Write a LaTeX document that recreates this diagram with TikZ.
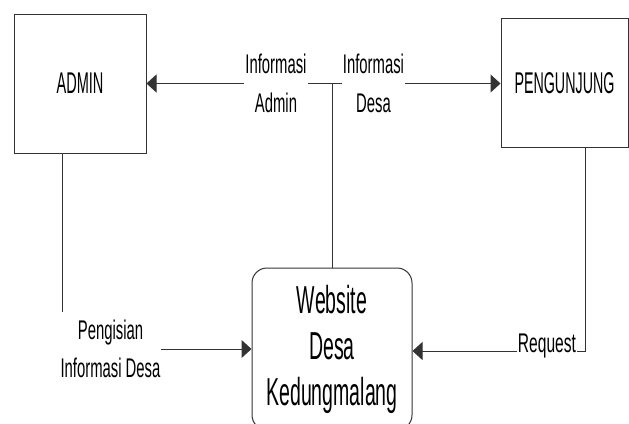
\documentclass[tikz,border=0pt]{standalone}
\usepackage{fontspec}
\setmainfont{Liberation Sans}
\usetikzlibrary{arrows.meta}
\begin{document}
\begin{tikzpicture}[x=1pt,y=-1pt,
  box/.style={draw=black!80, line width=1pt, inner sep=0pt},
  flow/.style={draw=black!80, line width=1pt, -{Triangle[length=10pt,width=18pt]}},
  plain/.style={draw=black!80, line width=1pt},
  lbl/.style={fill=white, inner xsep=1pt, inner ysep=0pt, align=center,
    font=\addfontfeatures{FakeStretch=0.55}\fontsize{27}{39}\selectfont},
]
\useasboundingbox (0,0) rectangle (629,423);
% entities
\node[box, minimum width=132pt, minimum height=139pt,
  font=\addfontfeatures{FakeStretch=0.485}\fontsize{30}{36}\selectfont] (admin) at (80,83.5) {ADMIN};
\node[box, minimum width=127pt, minimum height=128.5pt,
  font=\addfontfeatures{FakeStretch=0.476}\fontsize{30}{36}\selectfont] (peng) at (564.5,82.75) {PENGUNJUNG};
\node[box, rounded corners=15pt, minimum width=160pt, minimum height=162pt, align=center,
  font=\addfontfeatures{FakeStretch=0.5}\fontsize{39}{46}\selectfont] (web) at (332,349) {Website\\Desa\\Kedungmalang};
% junction and corners
\coordinate (j) at (332,83.5);
\coordinate (c1) at (62,349);
\coordinate (c2) at (585,351);
% connectors
\draw[plain] (web.north) -- (j);
\draw[flow] (j) -- (j -| admin.east);
\draw[flow] (j) -- (j -| peng.west);
\draw[flow] (admin.south -| c1) -- (c1) -- (c1 -| web.west);
\draw[flow] (peng.south -| c2) -- (c2) -- (c2 -| web.east);
% labels
\node[lbl] (ia) at (276,83.5) {Informasi\\Admin};
\node[lbl] (id) at (373.5,83.5) {Informasi\\Desa};
\node[lbl, inner ysep=8pt, font=\addfontfeatures{FakeStretch=0.55}\fontsize{27}{38}\selectfont] (pi) at (110.5,349) {Pengisian\\Informasi Desa};
\node[lbl, inner ysep=1pt, font=\addfontfeatures{FakeStretch=0.577}\fontsize{27}{32}\selectfont] (rq) at (547,346) {Request};
\end{tikzpicture}
\end{document}
